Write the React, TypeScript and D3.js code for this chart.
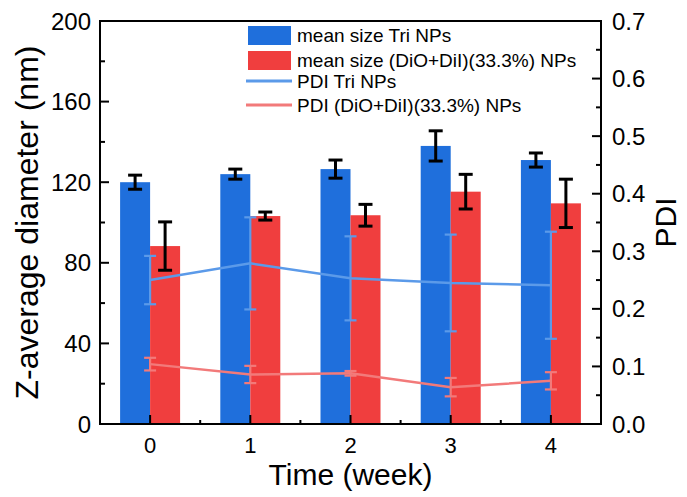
import React from "react";
import * as d3 from "d3";

// Storage time points (weeks)
const weeks = [0, 1, 2, 3, 4];

// Z-average diameter (nm)
const sizeTri = [120, 124, 126.5, 138, 131];
const sizeTriErr = [3.5, 2.5, 4.5, 7.5, 3.5];
const sizeDio = [88.3, 103.2, 103.6, 115.3, 109.5];
const sizeDioErr = [12, 2, 5.4, 8.6, 12];

// Polydispersity index
const pdiTri = [0.25, 0.279, 0.253, 0.245, 0.241];
const pdiTriErr = [0.042, 0.08, 0.073, 0.084, 0.093];
const pdiDio = [0.104, 0.086, 0.088, 0.064, 0.075];
const pdiDioErr = [0.011, 0.015, 0.004, 0.016, 0.015];

const leftTicks = [0, 40, 80, 120, 160, 200];
const rightTicks = [0, 0.1, 0.2, 0.3, 0.4, 0.5, 0.6, 0.7];

const legendLabels = [
  "mean size Tri NPs",
  "mean size (DiO+DiI)(33.3%) NPs",
  "PDI Tri NPs",
  "PDI (DiO+DiI)(33.3%) NPs",
];

const BLUE = "#1f6fdc";
const RED = "#f03e3e";
const LBLUE = "#5b9ae9";
const LRED = "#f27a7a";
const FONT = "'Liberation Sans', Arial, sans-serif";

export default function App() {
  const W = 687;
  const H = 497;
  const left = 100;
  const right = 601;
  const top = 21;
  const bottom = 424;

  const x = d3.scaleLinear().domain([-0.5, 4.5]).range([left, right]);
  const y = d3.scaleLinear().domain([0, 200]).range([bottom, top]);
  const y2 = d3.scaleLinear().domain([0, 0.7]).range([bottom, top]);
  const barW = 30;

  const leftMinor = d3.range(20, 200, 40);
  const rightMinor = d3.range(0.05, 0.7, 0.1);
  const xMinor = d3.range(-0.5, 5, 1).filter((v) => v > -0.5 && v < 4.5);

  const pdiLine = d3
    .line<number>()
    .x((_, i) => x(weeks[i]))
    .y((d) => y2(d));

  const errBar = (cx: number, y0: number, y1: number, cap: number, color: string, sw: number, key: string) => (
    <g key={key} stroke={color} strokeWidth={sw} fill="none">
      <line x1={cx} x2={cx} y1={y0} y2={y1} />
      <line x1={cx - cap / 2} x2={cx + cap / 2} y1={y0} y2={y0} />
      <line x1={cx - cap / 2} x2={cx + cap / 2} y1={y1} y2={y1} />
    </g>
  );

  return (
    <svg
      width={W}
      height={H}
      style={{ position: "absolute", left: 0, top: 0, background: "#fff" }}
      fontFamily={FONT}
    >
      {/* bars */}
      {weeks.map((w, i) => (
        <g key={"b" + w}>
          <rect x={x(w) - barW} y={y(sizeTri[i])} width={barW} height={bottom - y(sizeTri[i])} fill={BLUE} />
          <rect x={x(w)} y={y(sizeDio[i])} width={barW} height={bottom - y(sizeDio[i])} fill={RED} />
        </g>
      ))}
      {/* size error bars */}
      {weeks.map((w, i) =>
        errBar(x(w) - barW / 2, y(sizeTri[i] + sizeTriErr[i]), y(sizeTri[i] - sizeTriErr[i]), 14, "#000", 3, "et" + w)
      )}
      {weeks.map((w, i) =>
        errBar(x(w) + barW / 2, y(sizeDio[i] + sizeDioErr[i]), y(sizeDio[i] - sizeDioErr[i]), 14, "#000", 3, "ed" + w)
      )}

      {/* PDI lines */}
      <path d={pdiLine(pdiTri) || ""} stroke={LBLUE} strokeWidth={2.5} fill="none" />
      {weeks.map((w, i) =>
        errBar(x(w), y2(pdiTri[i] + pdiTriErr[i]), y2(pdiTri[i] - pdiTriErr[i]), 12, LBLUE, 2.2, "pt" + w)
      )}
      <path d={pdiLine(pdiDio) || ""} stroke={LRED} strokeWidth={2.5} fill="none" />
      {weeks.map((w, i) =>
        errBar(x(w), y2(pdiDio[i] + pdiDioErr[i]), y2(pdiDio[i] - pdiDioErr[i]), 12, LRED, 2.2, "pd" + w)
      )}

      {/* frame */}
      <rect x={left} y={top} width={right - left} height={bottom - top} fill="none" stroke="#000" strokeWidth={2} />

      {/* left axis ticks */}
      {leftTicks.map((t) => (
        <g key={"lt" + t}>
          <line x1={left} x2={left + 9} y1={y(t)} y2={y(t)} stroke="#000" strokeWidth={2} />
          <text x={left - 9} y={y(t)} dy="0.36em" textAnchor="end" fontSize={24}>
            {t}
          </text>
        </g>
      ))}
      {leftMinor.map((t) => (
        <line key={"lm" + t} x1={left} x2={left + 5} y1={y(t)} y2={y(t)} stroke="#000" strokeWidth={2} />
      ))}

      {/* right axis ticks */}
      {rightTicks.map((t) => (
        <g key={"rt" + t}>
          <line x1={right} x2={right - 9} y1={y2(t)} y2={y2(t)} stroke="#000" strokeWidth={2} />
          <text x={right + 11} y={y2(t)} dy="0.36em" textAnchor="start" fontSize={24}>
            {t.toFixed(1)}
          </text>
        </g>
      ))}
      {rightMinor.map((t) => (
        <line key={"rm" + t} x1={right} x2={right - 5} y1={y2(t)} y2={y2(t)} stroke="#000" strokeWidth={2} />
      ))}

      {/* bottom axis ticks */}
      {weeks.map((w) => (
        <g key={"xt" + w}>
          <line x1={x(w)} x2={x(w)} y1={bottom} y2={bottom - 9} stroke="#000" strokeWidth={2} />
          <text x={x(w)} y={453} textAnchor="middle" fontSize={22}>
            {w}
          </text>
        </g>
      ))}
      {xMinor.map((v) => (
        <line key={"xm" + v} x1={x(v)} x2={x(v)} y1={bottom} y2={bottom - 4} stroke="#000" strokeWidth={2} />
      ))}

      {/* axis titles */}
      <text x={(left + right) / 2} y={485} textAnchor="middle" fontSize={30}>
        Time (week)
      </text>
      <text
        transform={`translate(38, ${(top + bottom) / 2}) rotate(-90)`}
        textAnchor="middle"
        fontSize={32}
      >
        Z-average diameter (nm)
      </text>
      <text
        transform={`translate(676, ${(top + bottom) / 2}) rotate(-90)`}
        textAnchor="middle"
        fontSize={30}
      >
        PDI
      </text>

      {/* legend */}
      <g fontSize={19}>
        <rect x={248} y={26} width={43} height={19} fill={BLUE} />
        <text x={297} y={42}>{legendLabels[0]}</text>
        <rect x={248} y={51} width={43} height={19} fill={RED} />
        <text x={297} y={67}>{legendLabels[1]}</text>
        <line x1={246} x2={292} y1={81} y2={81} stroke={LBLUE} strokeWidth={3} />
        <text x={297} y={88}>{legendLabels[2]}</text>
        <line x1={246} x2={292} y1={105} y2={105} stroke={LRED} strokeWidth={3} />
        <text x={297} y={112}>{legendLabels[3]}</text>
      </g>
    </svg>
  );
}
